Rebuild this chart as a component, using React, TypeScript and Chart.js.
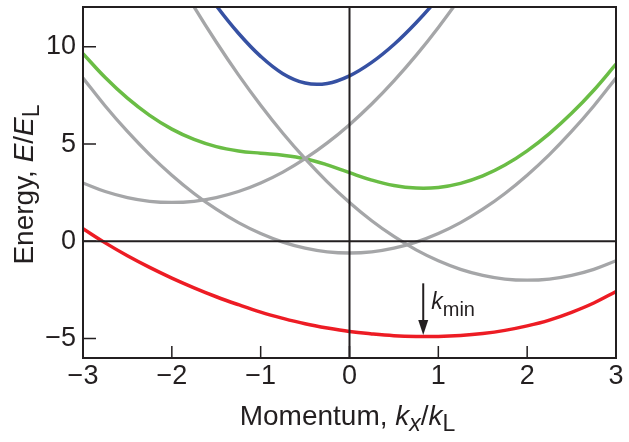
import React, { useEffect, useRef } from "react";
import { Chart, registerables } from "chart.js";

Chart.register(...registerables);

// Momentum k_x / k_L
const momentum = [
  -3, -2.75, -2.5, -2.25, -2, -1.75, -1.5, -1.25, -1, -0.75, -0.5, -0.25, 0,
  0.25, 0.5, 0.75, 1, 1.25, 1.5, 1.75, 2, 2.25, 2.5, 2.75, 3,
];

// Dressed bands (E / E_L)
const lowerBand = [
  0.65, -0.08, -0.74, -1.34, -1.89, -2.39, -2.85, -3.26, -3.64, -3.96, -4.24, -4.46, -4.64,
  -4.76, -4.85, -4.89, -4.89, -4.84, -4.74, -4.58, -4.35, -4.05, -3.65, -3.17, -2.58,
];
const middleBand = [
  9.65, 8.42, 7.36, 6.48, 5.77, 5.24, 4.87, 4.65, 4.53, 4.43, 4.25, 3.93, 3.53,
  3.15, 2.87, 2.74, 2.77, 2.98, 3.36, 3.92, 4.65, 5.54, 6.58, 7.77, 9.11,
];
const upperBand = [
  24.1, 21.75, 19.53, 17.45, 15.52, 13.74, 12.12, 10.7, 9.51, 8.62, 8.14, 8.12, 8.51,
  9.2, 10.12, 11.24, 12.52, 13.95, 15.53, 17.25, 19.1, 21.1, 23.2, 25.48, 27.87,
];

// Bare (uncoupled) bands
const bareLeft = [
  3, 2.56, 2.25, 2.06, 2, 2.06, 2.25, 2.56, 3, 3.56, 4.25, 5.06, 6,
  7.06, 8.25, 9.56, 11, 12.56, 14.25, 16.06, 18, 20.06, 22.25, 24.56, 27,
];
const bareCentre = [
  8.4, 6.96, 5.65, 4.46, 3.4, 2.46, 1.65, 0.96, 0.4, -0.04, -0.35, -0.54, -0.6,
  -0.54, -0.35, -0.04, 0.4, 0.96, 1.65, 2.46, 3.4, 4.46, 5.65, 6.96, 8.4,
];
const bareRight = [
  23, 20.56, 18.25, 16.06, 14, 12.06, 10.25, 8.56, 7, 5.56, 4.25, 3.06, 2,
  1.06, 0.25, -0.44, -1, -1.44, -1.75, -1.94, -2, -1.94, -1.75, -1.44, -1,
];

const xTicks = [-3, -2, -1, 0, 1, 2, 3];
const xTickLabels = ["\u22123", "\u22122", "\u22121", "0", "1", "2", "3"];
const yTicks = [-5, 0, 5, 10];
const yTickLabels = ["\u22125", "0", "5", "10"];

// k_min marker (data units)
const kMin = 0.83;
const arrowTop = -2.16;
const arrowTip = -4.82;

const FONT = '"Liberation Sans", Arial, Helvetica, sans-serif';
const INK = "#231f20";
const GRAY = "#a5a6a8";
const RED = "#ed1c24";
const GREEN = "#6abd45";
const BLUE = "#3651a3";

type Seg = { text: string; italic?: boolean; sub?: boolean };

function drawRich(
  ctx: CanvasRenderingContext2D,
  segs: Seg[],
  x: number,
  baseline: number,
  size: number,
  subSize: number,
  subDrop: number,
  align: "center" | "left"
) {
  const fontFor = (s: Seg) =>
    `${s.italic ? "italic " : ""}${s.sub ? subSize : size}px ${FONT}`;
  let total = 0;
  const widths = segs.map((s) => {
    ctx.font = fontFor(s);
    const w = ctx.measureText(s.text).width;
    total += w;
    return w;
  });
  let cx = align === "center" ? x - total / 2 : x;
  ctx.textAlign = "left";
  ctx.textBaseline = "alphabetic";
  segs.forEach((s, i) => {
    ctx.font = fontFor(s);
    ctx.fillText(s.text, cx, baseline + (s.sub ? subDrop : 0));
    cx += widths[i];
  });
}

const decorations = {
  id: "decorations",
  afterDatasetsDraw(chart: any) {
    const { ctx, chartArea: a } = chart;
    const xs = chart.scales.x;
    const ys = chart.scales.y;
    ctx.save();
    ctx.strokeStyle = INK;
    ctx.lineWidth = 2;
    const x0 = xs.getPixelForValue(0);
    const y0 = ys.getPixelForValue(0);
    ctx.beginPath();
    ctx.moveTo(x0, a.top);
    ctx.lineTo(x0, a.bottom);
    ctx.moveTo(a.left, y0);
    ctx.lineTo(a.right, y0);
    ctx.stroke();

    ctx.lineWidth = 1.5;
    ctx.beginPath();
    yTicks.forEach((v) => {
      const p = ys.getPixelForValue(v);
      ctx.moveTo(a.left, p);
      ctx.lineTo(a.left + 13, p);
    });
    xTicks.forEach((v) => {
      const p = xs.getPixelForValue(v);
      ctx.moveTo(p, a.bottom);
      ctx.lineTo(p, a.bottom - 12);
    });
    ctx.stroke();

    ctx.lineWidth = 2;
    ctx.strokeRect(a.left, a.top, a.right - a.left, a.bottom - a.top);

    // k_min arrow
    const ax = xs.getPixelForValue(kMin);
    const aTop = ys.getPixelForValue(arrowTop);
    const aTip = ys.getPixelForValue(arrowTip);
    const head = 15;
    ctx.lineWidth = 2;
    ctx.beginPath();
    ctx.moveTo(ax, aTop);
    ctx.lineTo(ax, aTip - head + 2);
    ctx.stroke();
    ctx.fillStyle = INK;
    ctx.beginPath();
    ctx.moveTo(ax, aTip);
    ctx.lineTo(ax - 5, aTip - head);
    ctx.lineTo(ax + 5, aTip - head);
    ctx.closePath();
    ctx.fill();

    drawRich(
      ctx,
      [{ text: "k", italic: true }, { text: "min", sub: true }],
      ax + 8,
      aTop + 26,
      23,
      20,
      7,
      "left"
    );
    ctx.restore();
  },
  afterDraw(chart: any) {
    const { ctx, chartArea: a } = chart;
    ctx.save();
    ctx.fillStyle = INK;
    drawRich(
      ctx,
      [
        { text: "Momentum, " },
        { text: "k", italic: true },
        { text: "x", italic: true, sub: true },
        { text: "/" },
        { text: "k", italic: true },
        { text: "L", sub: true },
      ],
      (a.left + a.right) / 2 - 2,
      425,
      28,
      23,
      6,
      "center"
    );
    ctx.translate(33, (a.top + a.bottom) / 2 + 2);
    ctx.rotate(-Math.PI / 2);
    drawRich(
      ctx,
      [
        { text: "Energy, " },
        { text: "E", italic: true },
        { text: "/" },
        { text: "E", italic: true },
        { text: "L", sub: true },
      ],
      0,
      0,
      28,
      23,
      6,
      "center"
    );
    ctx.restore();
  },
};

function series(values: number[], color: string, width: number) {
  return {
    data: momentum.map((k, i) => ({ x: k, y: values[i] })),
    borderColor: color,
    backgroundColor: color,
    borderWidth: width,
    pointRadius: 0,
    tension: 0.4,
    fill: false,
    clip: 0,
  };
}

export default function App() {
  const ref = useRef<HTMLCanvasElement>(null);
  useEffect(() => {
    document.body.style.margin = "0";
    const chart = new Chart(ref.current as HTMLCanvasElement, {
      type: "line",
      data: {
        datasets: [
          series(bareLeft, GRAY, 3.3),
          series(bareCentre, GRAY, 3.3),
          series(bareRight, GRAY, 3.3),
          series(lowerBand, RED, 3.5),
          series(middleBand, GREEN, 3.5),
          series(upperBand, BLUE, 3.5),
        ],
      } as any,
      options: {
        animation: false,
        responsive: false,
        maintainAspectRatio: false,
        devicePixelRatio: 1,
        layout: { padding: { top: 7, right: 13, left: 0, bottom: 0 } },
        plugins: { legend: { display: false }, tooltip: { enabled: false } },
        scales: {
          x: {
            type: "linear",
            min: -3,
            max: 3,
            afterBuildTicks: (s: any) => {
              s.ticks = xTicks.map((v) => ({ value: v }));
            },
            afterFit: (s: any) => {
              s.height = 84;
              s.paddingLeft = 0;
              s.paddingRight = 0;
            },
            grid: { display: false, drawTicks: false },
            border: { display: false },
            ticks: {
              padding: 2,
              maxRotation: 0,
              autoSkip: false,
              color: INK,
              font: { family: FONT, size: 27 },
              callback: (v: any) => xTickLabels[xTicks.indexOf(Number(v))],
            },
          },
          y: {
            type: "linear",
            min: -6,
            max: 12.05,
            afterBuildTicks: (s: any) => {
              s.ticks = yTicks.map((v) => ({ value: v }));
            },
            afterFit: (s: any) => {
              s.width = 83;
              s.paddingTop = 0;
              s.paddingBottom = 0;
            },
            grid: { display: false, drawTicks: false },
            border: { display: false },
            ticks: {
              padding: 7,
              color: INK,
              font: { family: FONT, size: 27 },
              callback: (v: any) => yTickLabels[yTicks.indexOf(Number(v))],
            },
          },
        },
      } as any,
      plugins: [decorations],
    });
    return () => chart.destroy();
  }, []);
  return (
    <div
      style={{
        position: "fixed",
        left: 0,
        top: 0,
        width: 629,
        height: 442,
        background: "#fff",
      }}
    >
      <canvas
        ref={ref}
        width={629}
        height={442}
        style={{ width: 629, height: 442, display: "block" }}
      />
    </div>
  );
}
